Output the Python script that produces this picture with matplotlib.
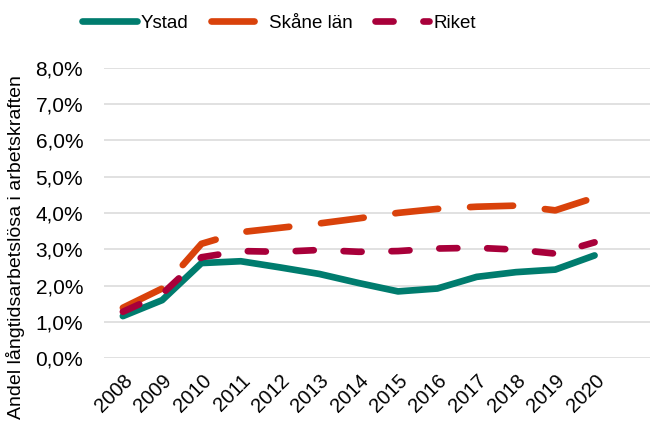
import matplotlib
matplotlib.use("Agg")
import matplotlib.pyplot as plt
from matplotlib.ticker import FuncFormatter

years = ["2008", "2009", "2010", "2011", "2012", "2013", "2014",
         "2015", "2016", "2017", "2018", "2019", "2020"]
ystad = [1.16, 1.60, 2.62, 2.67, 2.50, 2.32, 2.07, 1.84, 1.92, 2.24, 2.37, 2.44, 2.83]
skane = [1.39, 1.92, 3.15, 3.47, 3.59, 3.71, 3.85, 4.00, 4.11, 4.17, 4.20, 4.07, 4.42]
riket = [1.28, 1.77, 2.78, 2.95, 2.93, 2.98, 2.93, 2.95, 3.02, 3.04, 2.99, 2.88, 3.19]
series_names = ["Ystad", "Skåne län", "Riket"]
ylabel = "Andel långtidsarbetslösa i arbetskraften"

plt.rcParams['font.family'] = ['Liberation Sans', 'DejaVu Sans']
plt.rcParams['lines.scale_dashes'] = False

fig = plt.figure(figsize=(6.5, 4.21), dpi=100)
ax = fig.add_axes([104/650, (421-358.3)/421, 546/650, 290.8/421])

x = list(range(len(years)))
lw = 4.8
l1, = ax.plot(x, [v/100 for v in ystad], color="#007C6E", lw=lw,
              solid_capstyle="round", solid_joinstyle="round", label=series_names[0])
l2, = ax.plot(x, [v/100 for v in skane], color="#D9420B", lw=lw,
              dash_capstyle="round", dash_joinstyle="round", label=series_names[1])
l2.set_dashes((31, 23))
l3, = ax.plot(x, [v/100 for v in riket], color="#A8003A", lw=lw,
              dash_capstyle="round", dash_joinstyle="round", label=series_names[2])
l3.set_dashes((13, 21.5))

ax.set_ylim(0, 0.08)
ax.set_xlim(-0.48, 13.41)
ax.set_yticks([i/100 for i in range(9)])
ax.yaxis.set_major_formatter(FuncFormatter(lambda v, p: f"{v*100:.1f}%".replace(".", ",")))
ax.set_xticks(x)
ax.set_xticklabels(years, rotation=45, ha="right", rotation_mode="anchor")
ax.tick_params(axis="y", length=0, labelsize=15, colors="#000000", pad=15)
ax.tick_params(axis="x", length=0, labelsize=14.5, colors="#000000", pad=9)
ax.grid(axis="y", color="#D9D9D9", lw=1.1)
ax.set_axisbelow(True)
for s in ax.spines.values():
    s.set_visible(False)

fig.text(16/650, (421-247.5)/421, ylabel, rotation=90, ha="center", va="center", fontsize=14)

fig.legend(handles=[l1, l2, l3], loc="center", bbox_to_anchor=(279/650, 1-23/421),
           ncol=3, frameon=False, fontsize=13.5, handlelength=2.9,
           handletextpad=0.2, columnspacing=1.2)

fig.savefig("out.png", dpi=100)
